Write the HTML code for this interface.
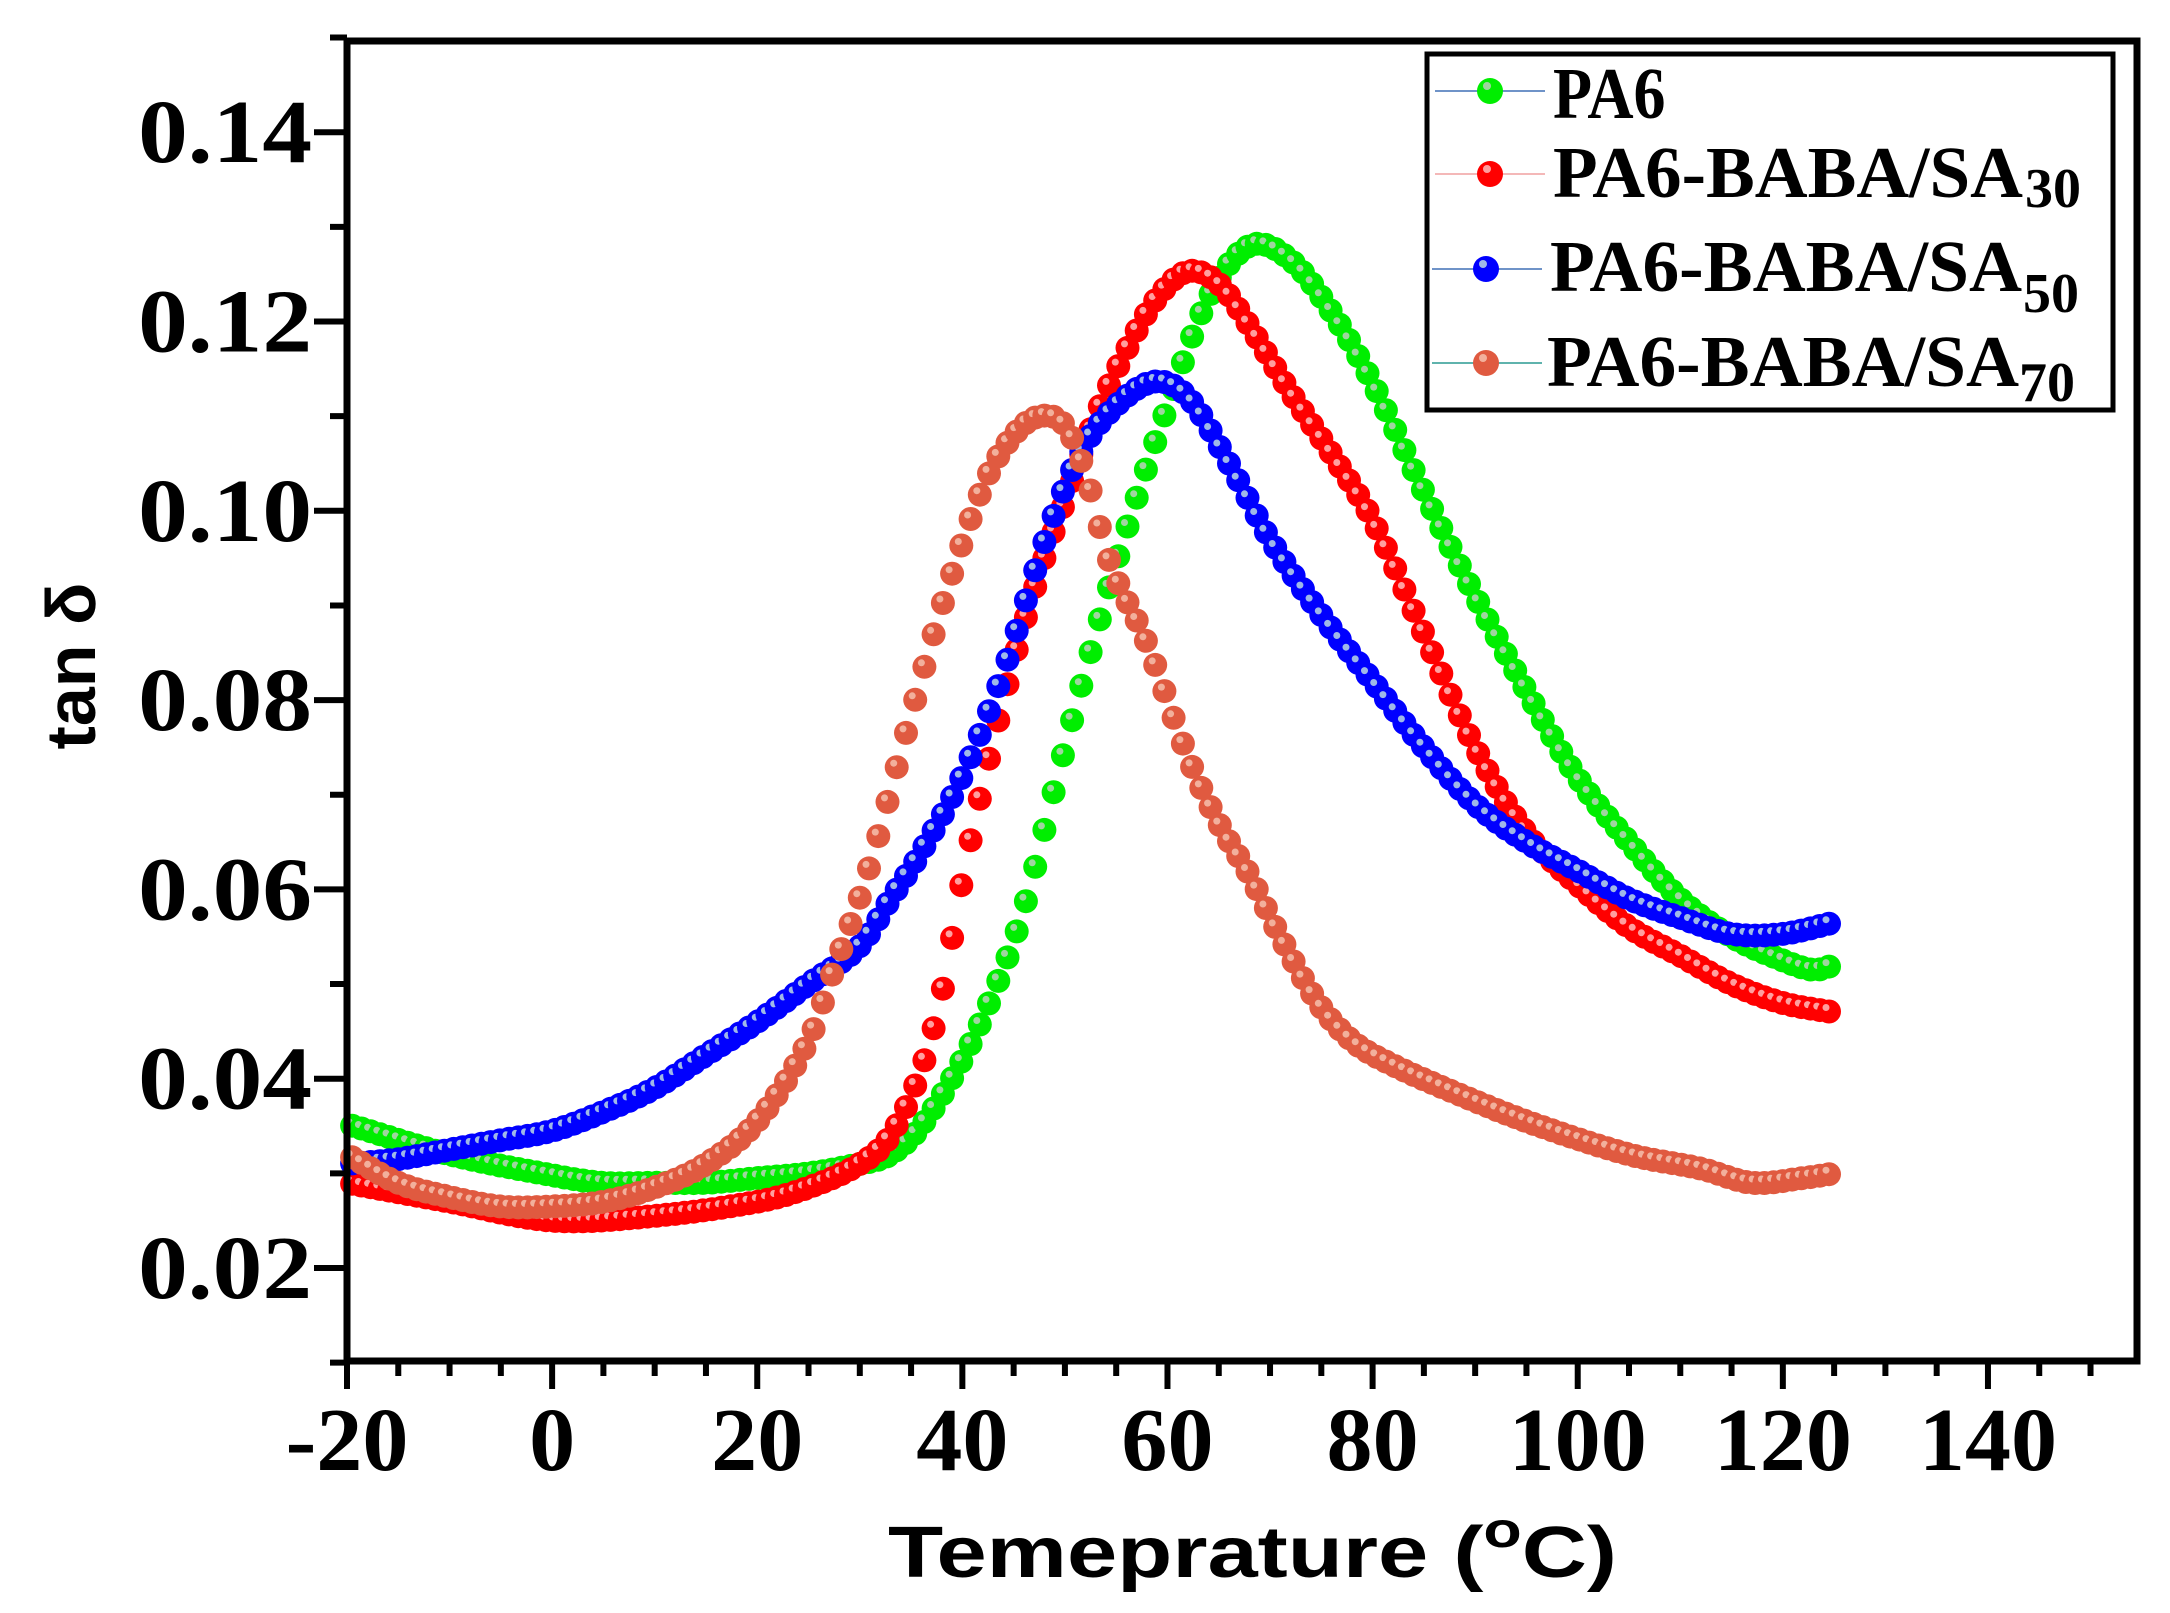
<!DOCTYPE html>
<html><head><meta charset="utf-8"><style>
html,body{margin:0;padding:0;background:#fff;}
svg{display:block;}
.tl{font-family:"Liberation Serif",serif;font-weight:bold;font-size:64px;fill:#000;}
.tk{font-family:"Liberation Serif",serif;font-weight:bold;font-size:72px;fill:#000;}
.at{font-family:"Liberation Sans",sans-serif;font-weight:bold;fill:#000;}
</style></head><body>
<svg id="s" width="2170" height="1613" viewBox="0 0 2170 1613" xmlns="http://www.w3.org/2000/svg">
<g id="plot"></g>
<g id="axes"></g>
<text class="at" font-size="70" transform="translate(95,666) rotate(-90)" text-anchor="middle">tan δ</text>
<text class="at" font-size="72" x="888" y="1577" textLength="729" lengthAdjust="spacingAndGlyphs">Temeprature (<tspan font-size="50" dy="-30">o</tspan><tspan dy="30">C)</tspan></text>
<g id="legend">
<rect x="1427" y="54" width="686" height="356" fill="#fff" stroke="#000" stroke-width="5"/>
<line x1="1435" y1="91" x2="1545" y2="91" stroke="#6f93c8" stroke-width="2"/>
<line x1="1435" y1="174" x2="1545" y2="174" stroke="#f4b8b8" stroke-width="2"/>
<line x1="1432" y1="269" x2="1542" y2="269" stroke="#6f93c8" stroke-width="2"/>
<line x1="1432" y1="363" x2="1542" y2="363" stroke="#5fb3ad" stroke-width="2"/>
<g class="tl" font-size="70">
<text transform="translate(1553,118) scale(1,1.15)">PA6</text>
<text transform="translate(1553,197) scale(1,1.15)" textLength="470" lengthAdjust="spacingAndGlyphs">PA6-BABA/SA</text><text x="2025" y="207" font-size="56">30</text>
<text transform="translate(1550,291) scale(1,1.15)" textLength="472" lengthAdjust="spacingAndGlyphs">PA6-BABA/SA</text><text x="2023" y="312" font-size="56">50</text>
<text transform="translate(1547,386) scale(1,1.15)" textLength="472" lengthAdjust="spacingAndGlyphs">PA6-BABA/SA</text><text x="2019" y="401" font-size="56">70</text>
</g>
</g>
</svg>
<script>
var NS="http://www.w3.org/2000/svg";
function X(t){return 347+(t+20)*10.256;}
function Y(v){return 1268-(v-0.02)*9465;}
function el(p,n,a){var e=document.createElementNS(NS,n);for(var k in a)e.setAttribute(k,a[k]);p.appendChild(e);return e;}
var ax=document.getElementById('axes'),plot=document.getElementById('plot');
el(ax,'rect',{x:347,y:41,width:1790,height:1320,fill:'none',stroke:'#000','stroke-width':7});
for(var t=-20;t<=150;t+=5){var maj=(t%20===0);el(ax,'line',{x1:X(t),y1:1361,x2:X(t),y2:maj?1389:1376,stroke:'#000','stroke-width':6});
 if(maj){var tx=el(ax,'text',{transform:'translate('+X(t)+',1470) scale(1.28,1.25)','text-anchor':'middle','class':'tk'});tx.textContent=String(t);}}
for(var i=1;i<=15;i++){var v=i/100;var maj=(i%2===0);var y=Y(v);
 el(ax,'line',{x1:maj?314:330,y1:y,x2:347,y2:y,stroke:'#000','stroke-width':6});
 if(maj&&i<=14){var tx=el(ax,'text',{transform:'translate(312,'+(y+30)+') scale(1.38,1.25)','text-anchor':'end','class':'tk'});tx.textContent=v.toFixed(2);}}
var S=[
 ['#00ee00','#9fd59f',[[-20,0.0352],[-10,0.032],[0,0.0298],[5,0.029],[10,0.029],[15,0.029],[20,0.0295],[25,0.030],[30,0.031],[33,0.032],[36,0.035],[40,0.042],[43,0.049],[46,0.058],[50,0.075],[53,0.087],[56,0.098],[60,0.111],[64,0.1225],[68,0.128],[72,0.1265],[76,0.121],[80,0.1135],[85,0.102],[90,0.091],[95,0.081],[100,0.0718],[105,0.065],[110,0.059],[115,0.055],[120,0.0525],[123,0.0515],[125,0.052]]],
 ['#ff0000','#ff9f9f',[[-20,0.029],[-10,0.027],[0,0.025],[10,0.0255],[20,0.027],[25,0.0285],[30,0.031],[33,0.034],[36,0.041],[38,0.049],[40,0.061],[42,0.071],[44,0.080],[46,0.088],[48,0.095],[50,0.101],[53,0.110],[56,0.117],[59,0.1225],[62,0.1253],[65,0.124],[68,0.1195],[72,0.1125],[76,0.106],[80,0.099],[85,0.087],[90,0.075],[95,0.066],[100,0.0605],[105,0.056],[110,0.053],[115,0.050],[120,0.048],[125,0.047]]],
 ['#0000ff','#9fb8e8',[[-20,0.031],[-15,0.0315],[-10,0.0325],[-5,0.0335],[0,0.0345],[5,0.0365],[10,0.039],[15,0.0425],[20,0.046],[25,0.050],[30,0.054],[33,0.059],[36,0.064],[40,0.072],[44,0.083],[48,0.0967],[51,0.105],[54,0.110],[58.5,0.1136],[62,0.112],[66,0.105],[70,0.097],[75,0.089],[80,0.082],[85,0.075],[90,0.069],[95,0.065],[100,0.062],[105,0.059],[110,0.057],[115,0.0553],[120,0.0553],[125,0.0565]]],
 ['#e05a40','#f2b09c',[[-20,0.032],[-15,0.029],[-10,0.0275],[-5,0.0265],[0,0.0265],[5,0.027],[10,0.0285],[15,0.031],[20,0.0355],[25,0.044],[27.3,0.051],[30.7,0.0615],[34.8,0.0777],[38.6,0.092],[42.2,0.103],[45,0.108],[47.6,0.110],[50,0.109],[52,0.104],[54.4,0.0945],[58,0.086],[62,0.074],[65,0.067],[68,0.0615],[71,0.055],[74.7,0.048],[78,0.044],[81.5,0.0417],[87,0.039],[95,0.0355],[105,0.032],[112,0.0305],[117,0.029],[122,0.0295],[125,0.030]]]
];
function interp(p,t){for(var i=0;i<p.length-1;i++){if(t<=p[i+1][0]){var a=p[i],b=p[i+1];
 var f=(t-a[0])/(b[0]-a[0]);
 var p0=p[Math.max(0,i-1)],p3=p[Math.min(p.length-1,i+2)];
 var m1=(b[1]-p0[1])/(b[0]-p0[0])*(b[0]-a[0]),m2=(p3[1]-a[1])/(p3[0]-a[0])*(b[0]-a[0]);
 var f2=f*f,f3=f2*f;
 return (2*f3-3*f2+1)*a[1]+(f3-2*f2+f)*m1+(-2*f3+3*f2)*b[1]+(f3-f2)*m2;}}
 return p[p.length-1][1];}
S.forEach(function(s){var g=el(plot,'g',{});
 for(var t=-19.5;t<=125.01;t+=0.9){var v=interp(s[2],t);var cx=X(t),cy=Y(v);
  el(g,'circle',{cx:cx.toFixed(1),cy:cy.toFixed(1),r:12,fill:s[0]});
  el(g,'circle',{cx:(cx-3).toFixed(1),cy:(cy-4).toFixed(1),r:3.5,fill:s[1]});}
});
var L=document.getElementById('legend');
[[1490,91,0],[1490,174,1],[1486,269,2],[1486,363,3]].forEach(function(m){
 el(L,'circle',{cx:m[0],cy:m[1],r:13,fill:S[m[2]][0]});
 el(L,'circle',{cx:m[0]-3,cy:m[1]-5,r:4,fill:S[m[2]][1]});});
</script>
</body></html>
